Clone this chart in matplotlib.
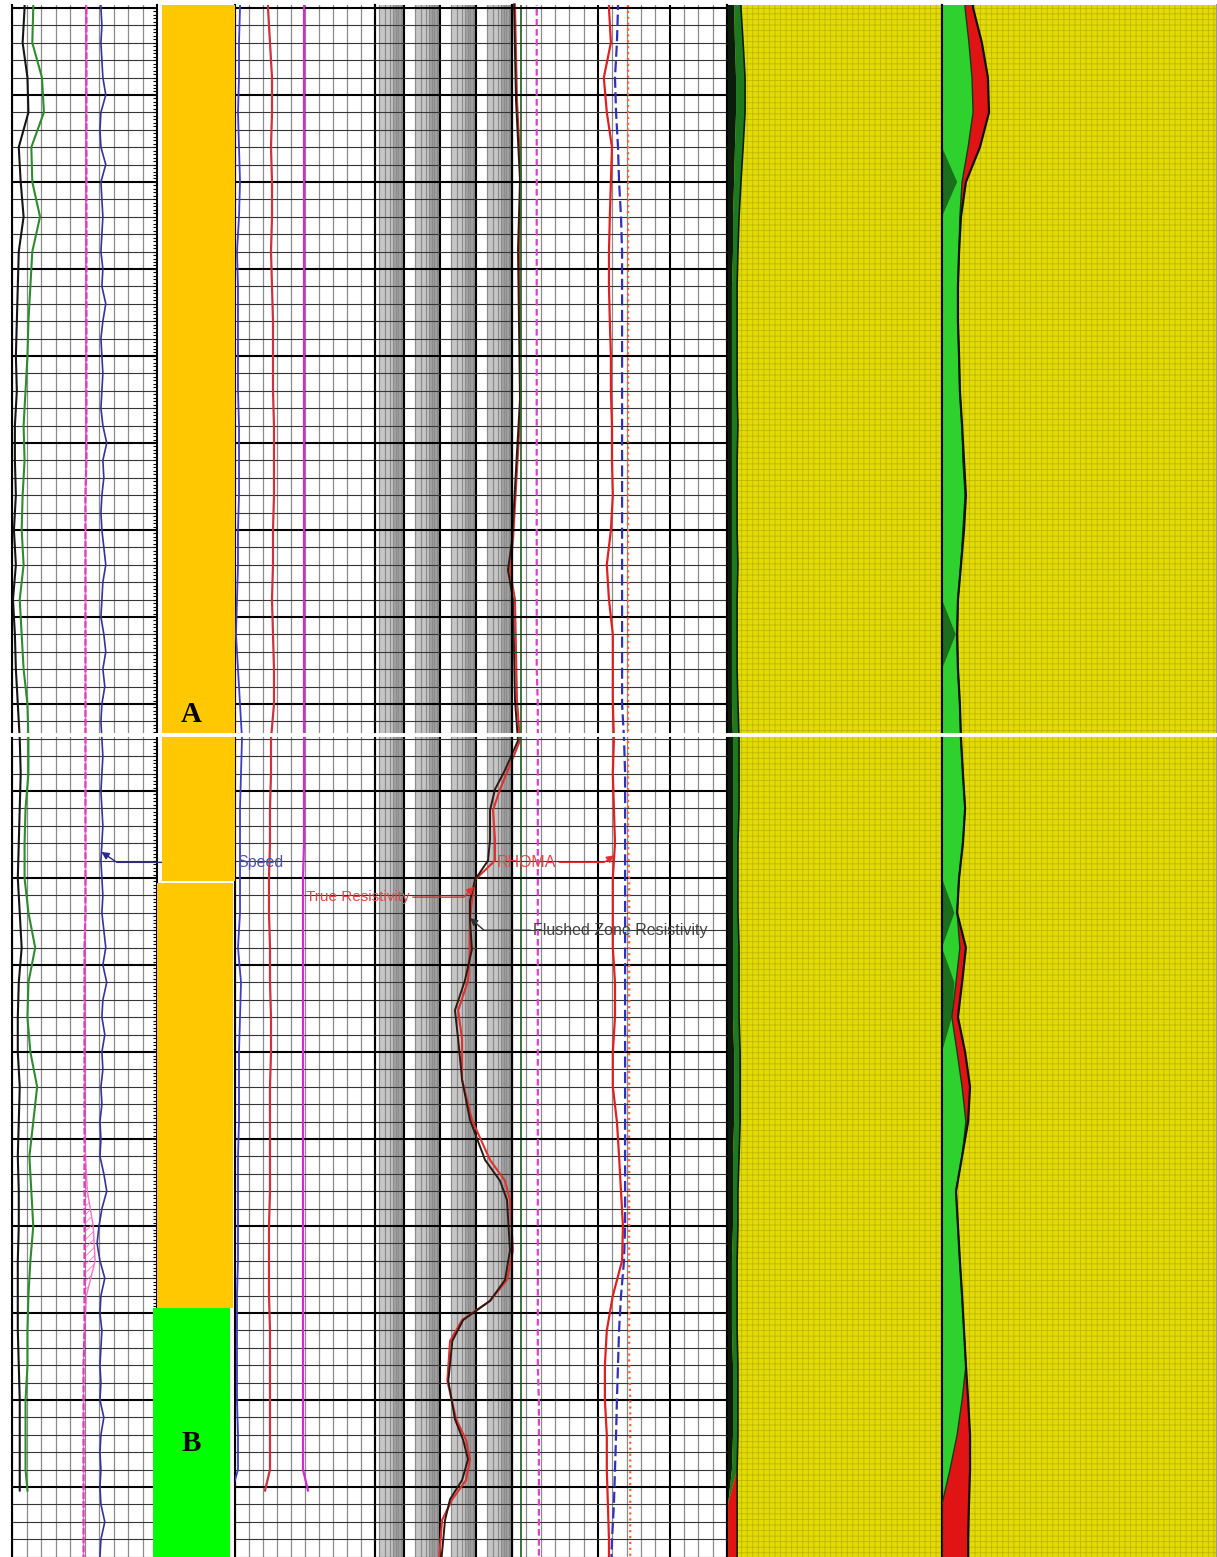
import numpy as np
import matplotlib
matplotlib.use("Agg")
import matplotlib.pyplot as plt
from matplotlib.patches import Rectangle
from matplotlib.ticker import MultipleLocator

plt.rcParams['font.family'] = ['Liberation Sans', 'DejaVu Sans']
plt.rcParams['hatch.linewidth'] = 0.6

# depth samples (ft)
depth = np.arange(5598, 5691, 2)
depth_fine = np.arange(5598, 5691, 1)
depth_short = np.append(np.arange(5598, 5685, 2), 5685.2)
depth_res = [5599.8, 5605.3, 5609.9, 5613.9, 5622.5, 5630.6, 5632.3, 5634.0, 5639.8, 5642.1,
             5643.8, 5644.9, 5646.1, 5647.8, 5649.0, 5650.1, 5651.3, 5652.4, 5654.1, 5655.9,
             5657.6, 5659.3, 5661.6, 5663.9, 5666.2, 5667.4, 5668.5, 5671.4, 5673.1, 5674.3,
             5675.4, 5676.6, 5678.9, 5681.1, 5682.3, 5683.4, 5684.6, 5685.7, 5686.9, 5690.0]

# track 1 curves
trk1_black = [13, 13, 11, 16, 17, 7, 9, 12, 7, 6, 5, 4, 5, 3, 3, 4, 2, 4, 1, 3,
              4, 6, 8, 9, 8, 7, 6, 8, 10, 7, 6, 6, 8, 7, 6, 7, 7, 6, 6, 6,
              7, 8, 8, 8, 8]
trk1_green = [22, 22, 21, 31, 33, 20, 21, 29, 21, 19, 17, 16, 14, 12, 13, 11, 10, 12, 8, 10,
              12, 16, 17, 17, 14, 13, 13, 17, 24, 17, 16, 19, 26, 22, 18, 20, 22, 19, 17, 16,
              16, 14, 14, 14, 16]
cable_speed = [92, 92, 92, 93, 92, 93, 94, 97, 92, 91,
               92, 97, 92, 93, 94, 93, 92, 94, 93, 97,
               94, 92, 93, 94, 93, 92, 94, 98, 94, 95,
               93, 92, 93, 95, 97, 94, 93, 92, 95, 97,
               94, 96, 93, 92, 93, 94, 93, 92, 93, 94,
               93, 92, 93, 94, 93, 95, 97, 94, 98, 94,
               93, 96, 93, 94, 92, 93, 91, 92, 91, 95,
               98, 93, 90, 88, 91, 96, 92, 91, 93, 92,
               91, 92, 91, 95, 92, 91, 92, 91, 92, 96,
               92, 91, 91]
trk1_magenta = [77, 77, 77, 77, 77, 77, 77, 77, 77, 77, 77, 77, 77, 77, 77, 76, 76, 76, 76, 76,
                76, 76, 76, 76, 76, 76, 76, 76, 75, 75, 75, 75, 75, 75, 75, 75, 75, 75, 75, 75,
                74, 74, 74, 74, 74, 74, 74]
trk1_pink = [77, 77, 77, 77, 77, 77, 77, 77, 77, 77, 77, 77, 77, 77, 77, 76, 76, 76, 76, 76,
             76, 76, 76, 76, 76, 76, 76, 76, 75, 75, 75, 75, 75, 75, 76, 78, 84, 86, 77, 75,
             74, 74, 74, 74, 74, 74, 74]

# track 2 curves
trk2_blue = [5, 5, 4, 4, 3, 4, 5, 4, 2, 3, 3, 3, 3, 4, 4, 4, 3, 3, 2, 1,
             3, 5, 7, 6, 5, 5, 5, 5, 3, 6, 5, 4, 4, 4, 3, 3, 3, 3, 2, 2,
             2, 2, 3, 3, -3]
trk2_red = [33, 33, 35, 37, 37, 36, 37, 37, 36, 37, 38, 38, 38, 39, 39, 39, 38, 38, 37, 38,
            39, 39, 36, 36, 35, 35, 34, 34, 35, 35, 36, 36, 35, 35, 35, 35, 34, 34, 34, 35,
            35, 35, 35, 35, 30]
trk2_magenta = [69, 69, 69, 69, 69, 69, 69, 69, 69, 69, 69, 69, 69, 69, 69, 69, 69, 69, 69, 69,
                69, 69, 69, 69, 69, 69, 68, 68, 68, 68, 68, 68, 68, 68, 68, 68, 68, 68, 68, 68,
                68, 68, 68, 68, 73]

# track 3 resistivities (ohm.m)
rxo = [1136, 1291, 1668, 1468, 1668, 1000, 774, 1066, 1211, 1468,
       639, 337, 245, 245, 215, 94, 68, 68, 77, 49,
       26, 32, 41, 68, 178, 464, 726, 880, 639, 245,
       44, 22, 17, 26, 44, 60, 41, 19, 13.8, 10]
rt = [1211, 1376, 1778, 1565, 1778, 1066, 880, 1211, 1376, 1668,
      774, 464, 297, 337, 337, 94, 77, 68, 68, 60,
      32, 41, 41, 77, 245, 639, 880, 1066, 726, 245,
      41, 19, 16, 28, 53, 68, 53, 22, 11.4, 8.8]

# track 4 curves (g/cc)
trk4_magenta = [2.265] * 21 + [2.27] * 20 + [2.275] * 6
rhoma = [2.601, 2.601, 2.610, 2.577, 2.591, 2.615, 2.610, 2.605, 2.601, 2.601,
         2.605, 2.610, 2.610, 2.615, 2.615, 2.619, 2.610, 2.591, 2.601, 2.619,
         2.619, 2.619, 2.624, 2.619, 2.624, 2.629, 2.619, 2.619, 2.619, 2.629,
         2.629, 2.619, 2.619, 2.638, 2.648, 2.657, 2.666, 2.662, 2.619, 2.591,
         2.582, 2.582, 2.591, 2.591, 2.596, 2.601, 2.601]
trk4_blue = [2.643, 2.643, 2.638, 2.629, 2.634, 2.643, 2.648, 2.657, 2.662, 2.662,
             2.662, 2.662, 2.662, 2.662, 2.662, 2.662, 2.662, 2.662, 2.662, 2.662,
             2.662, 2.662, 2.671, 2.676, 2.676, 2.676, 2.676, 2.676, 2.676, 2.676,
             2.676, 2.676, 2.676, 2.676, 2.676, 2.676, 2.676, 2.671, 2.657, 2.648,
             2.643, 2.638, 2.634, 2.629, 2.624, 2.615, 2.610]
trk4_orange = [2.69] * 26 + [2.695] * 15 + [2.70] * 6

# volumetric track (cumulative fractions)
vol_black = [0.033, 0.033, 0.037, 0.042, 0.042, 0.037, 0.033, 0.028, 0.028, 0.023,
             0.023, 0.023, 0.023, 0.023, 0.023, 0.023, 0.023, 0.023, 0.023, 0.023,
             0.023, 0.023, 0.028, 0.028, 0.028, 0.028, 0.028, 0.028, 0.028, 0.028,
             0.028, 0.033, 0.033, 0.033, 0.028, 0.028, 0.028, 0.023, 0.023, 0.023,
             0.028, 0.028, 0.028, 0.023, 0.005, 0.005, 0.005]
vol_green = [0.065, 0.065, 0.075, 0.084, 0.084, 0.075, 0.065, 0.056, 0.051, 0.047,
             0.047, 0.047, 0.047, 0.051, 0.047, 0.047, 0.047, 0.051, 0.047, 0.047,
             0.047, 0.051, 0.056, 0.056, 0.056, 0.051, 0.051, 0.051, 0.056, 0.056,
             0.056, 0.061, 0.061, 0.061, 0.056, 0.051, 0.051, 0.047, 0.047, 0.047,
             0.051, 0.051, 0.051, 0.047, 0.005, 0.005, 0.005]
vol_red = vol_green[:44] + [0.047, 0.047, 0.047]

# porosity track: bound water (dark green), water (green), hydrocarbon (red) edges
cbw = [0.0, 0.0, 0.0, 0.0, 0.0, 0.0, 0.055, 0.0, 0.0, 0.0,
       0.0, 0.0, 0.0, 0.0, 0.0, 0.0, 0.0, 0.0, 0.0, 0.05,
       0.0, 0.0, 0.0, 0.0, 0.0, 0.0, 0.0, 0.045, 0.0, 0.045,
       0.036, 0.0, 0.0, 0.0, 0.0, 0.0, 0.0, 0.0, 0.0, 0.0,
       0.0, 0.0, 0.0, 0.0, 0.0, 0.0, 0.0]
bvw = [0.076, 0.084, 0.098, 0.109, 0.113, 0.095, 0.073, 0.065, 0.062, 0.058,
       0.058, 0.062, 0.065, 0.073, 0.076, 0.084, 0.076, 0.069, 0.058, 0.055,
       0.058, 0.065, 0.069, 0.076, 0.084, 0.076, 0.062, 0.055, 0.065, 0.051,
       0.036, 0.055, 0.073, 0.087, 0.073, 0.051, 0.058, 0.065, 0.073, 0.080,
       0.087, 0.073, 0.055, 0.029, 0.0, 0.0, 0.0]
bvhc = [0.109, 0.113, 0.145, 0.167, 0.171, 0.138, 0.087, 0.069, 0.062, 0.058,
        0.058, 0.062, 0.065, 0.073, 0.080, 0.087, 0.080, 0.069, 0.058, 0.055,
        0.058, 0.065, 0.069, 0.076, 0.084, 0.076, 0.062, 0.055, 0.087, 0.073,
        0.058, 0.084, 0.102, 0.095, 0.073, 0.051, 0.058, 0.065, 0.073, 0.080,
        0.087, 0.095, 0.102, 0.102, 0.098, 0.095, 0.095]

# zones
zone_tops = [5599.8, 5650.3, 5674.7]
zone_bases = [5650.2, 5674.7, 5689.1]
zone_colors = ['#ffc800', '#ffc800', '#00ff00']
zone_x = [(12, 85), (7, 83), (3, 80)]
zone_labels = ['A', 'B']
zone_label_depths = [5640.6, 5682.5]

splice_depth = 5641.8
TOP, BOT = 5599.83, 5689.02
W, H = 1217, 1557

fig = plt.figure(figsize=(W / 100, H / 100), dpi=100)
fig.patch.set_facecolor('white')


def add_track(x0, x1):
    ax = fig.add_axes([x0 / W, 0, (x1 - x0) / W, 1552 / H])
    ax.set_facecolor('none')
    ax.set_ylim(BOT, TOP)
    ax.spines['top'].set_visible(False)
    ax.spines['bottom'].set_visible(False)
    ax.spines['left'].set_linewidth(1.5)
    ax.spines['right'].set_linewidth(1.5)
    return ax


def strip_ticks(ax):
    ax.tick_params(which='both', length=0, labelleft=False, labelbottom=False)


def hgrid(ax):
    for d in np.arange(5600, 5690):
        if d % 5 == 0:
            ax.axhline(d, color='black', lw=1.5, zorder=1.5)
        else:
            ax.axhline(d, color='#363636', lw=0.8, zorder=1.5)


def vgrid(ax, xs, majors=()):
    for i, x in enumerate(xs):
        if i in majors:
            ax.axvline(x, color='black', lw=1.5, zorder=1)
        else:
            ax.axvline(x, color='#8c8c8c', lw=0.9, zorder=1)


# track 1
ax1 = add_track(12, 157)
ax1.set_xlim(0, 150)
vgrid(ax1, np.linspace(0, 150, 11))
hgrid(ax1)
ax1.fill_betweenx(depth, trk1_magenta, trk1_pink, facecolor='none', edgecolor='#ff70c8',
                  hatch='////', lw=0, zorder=2)
ax1.plot(trk1_pink, depth, color='#ff70c8', lw=1, zorder=2)
ax1.plot(trk1_magenta, depth, color='#e03cc0', lw=1.6, ls=(0, (3, 1)), zorder=3)
ax1.plot(cable_speed, depth_fine, color='#34349a', lw=1.2, zorder=3)
ax1.plot(trk1_green, depth_short, color='#2e8b2e', lw=1.5, zorder=3)
ax1.plot(trk1_black, depth_short, color='#151515', lw=1.5, zorder=3)
ax1.set_xticks([])
ax1.yaxis.set_major_locator(MultipleLocator(1))
ax1.yaxis.set_minor_locator(MultipleLocator(0.2))
ax1.tick_params(axis='y', which='both', left=False, right=True, direction='in',
                length=3, width=0.8, labelleft=False)

# track 2
ax2 = add_track(235, 375)
ax2.set_xlim(0, 140)
vgrid(ax2, np.linspace(0, 140, 11))
hgrid(ax2)
ax2.plot(trk2_blue, depth_short, color='#3c3cc8', lw=1.3, zorder=3)
ax2.plot(trk2_red, depth_short, color='#d0303c', lw=1.6, zorder=3)
ax2.plot(trk2_magenta, depth_short, color='#d02cd0', lw=1.6, zorder=3)
strip_ticks(ax2)

# track 3 - resistivity, logarithmic
ax3 = add_track(375, 512)
ax3.set_xscale('log')
ax3.set_xlim(0.156, 1000)
for n in range(-1, 3):
    for k in range(1, 10):
        v = k * 10.0 ** n
        if v < 0.156:
            continue
        if k == 1:
            ax3.axvline(v, color='black', lw=1.5, zorder=1)
        else:
            ax3.axvline(v, color='#8c8c8c', lw=0.9, zorder=1)
    ax3.axvspan(2.2 * 10.0 ** n, 5 * 10.0 ** n, color='#c6c6c6', lw=0, zorder=0)
    ax3.axvspan(5 * 10.0 ** n, 10 * 10.0 ** n, color='#a2a2a2', lw=0, zorder=0)
hgrid(ax3)
ax3.plot(rt, depth_res, color='#e03030', lw=1.5, zorder=3, clip_on=False)
ax3.plot(rxo, depth_res, color='#2a1a12', lw=1.4, zorder=3, clip_on=False)
strip_ticks(ax3)

# track 4
ax4 = add_track(512, 727)
ax4.set_xlim(2.15, 3.15)
vgrid(ax4, np.linspace(2.15, 3.15, 16), majors=(6, 11))
ax4.axvline(2.192, color='#2a6a2a', lw=1.3, zorder=1.2)
hgrid(ax4)
ax4.plot(trk4_magenta, depth, color='#e040d0', lw=1.6, ls=(0, (3, 1.5)), zorder=3)
ax4.plot(trk4_orange, depth, color='#ff6030', lw=1.6, ls=':', zorder=3)
ax4.plot(trk4_blue, depth, color='#3030c0', lw=1.6, ls=(0, (5, 2)), zorder=3)
ax4.plot(rhoma, depth, color='#e02020', lw=1.6, zorder=3)
strip_ticks(ax4)

# volumetric track
ax5 = add_track(727, 942)
ax5.set_xlim(0, 1)
ax5.add_patch(Rectangle((0, 0), 1, 1, transform=ax5.transAxes, facecolor='#e3dc04',
                        edgecolor='#c0b600', hatch='+++', lw=0, zorder=0))
ax5.fill_betweenx(depth, 0, vol_black, color='#0c1c0c', lw=0, zorder=2)
ax5.fill_betweenx(depth, vol_black, vol_green, color='#1f7a1f', lw=0, zorder=2)
ax5.fill_betweenx(depth, vol_green, vol_red, color='#e01414', lw=0, zorder=2)
ax5.plot(vol_red, depth, color='#0c1c0c', lw=1.2, zorder=3)
strip_ticks(ax5)

# porosity track
ax6 = add_track(942, 1217)
ax6.set_xlim(0, 1)
ax6.add_patch(Rectangle((0, 0), 1, 1, transform=ax6.transAxes, facecolor='#e3dc04',
                        edgecolor='#c0b600', hatch='+++', lw=0, zorder=0))
ax6.fill_betweenx(depth, 0, bvw, color='#2ed12e', lw=0, zorder=2)
ax6.fill_betweenx(depth, 0, cbw, color='#1b6e1b', lw=0, zorder=2.2)
ax6.fill_betweenx(depth, bvw, bvhc, color='#e01414', lw=0, zorder=2)
ax6.plot(bvw, depth, color='#143c14', lw=1.0, zorder=3)
ax6.plot(bvhc, depth, color='#101010', lw=1.6, zorder=3)
ax6.spines['right'].set_color('#9a9a9a')
strip_ticks(ax6)

# curve labels
ax2.annotate('Speed', xy=(np.interp(5648.5, depth_fine, cable_speed), 5648.5),
             xycoords=ax1.transData, xytext=(2, 5649.1), textcoords='data',
             ha='left', va='center', fontsize=11.5, color='#5050a8', annotation_clip=False,
             arrowprops=dict(arrowstyle='-|>', color='#2a2a8a', lw=1, mutation_scale=11,
                             shrinkA=0, shrinkB=0,
                             connectionstyle='angle,angleA=0,angleB=-34,rad=0'))
ax4.annotate('RHOMA', xy=(np.interp(5648.7, depth, rhoma), 5648.7), xytext=(2.08, 5649.1),
             ha='left', va='center', fontsize=11.5, color='#e04848', annotation_clip=False,
             arrowprops=dict(arrowstyle='-|>', color='#e03030', lw=1, mutation_scale=11,
                             shrinkA=0, shrinkB=0,
                             connectionstyle='angle,angleA=0,angleB=35,rad=0'))
ax3.annotate('True Resistivity', xy=(np.interp(5650.5, depth_res, rt), 5650.5),
             xytext=(1.47, 5651.1), ha='right', va='center', fontsize=11, color='#e04848',
             annotation_clip=False,
             arrowprops=dict(arrowstyle='-|>', color='#e03030', lw=1, mutation_scale=11,
                             shrinkA=0, shrinkB=0,
                             connectionstyle='angle,angleA=0,angleB=45,rad=0'))
ax4.annotate('Flushed Zone Resistivity', xy=(np.interp(5652.3, depth_res, rxo), 5652.3),
             xycoords=ax3.transData, xytext=(2.249, 5653.0), textcoords='data',
             ha='left', va='center', fontsize=11.5, color='#444444', annotation_clip=False,
             arrowprops=dict(arrowstyle='-|>', color='#303030', lw=1, mutation_scale=11,
                             shrinkA=0, shrinkB=0,
                             connectionstyle='angle,angleA=0,angleB=-41,rad=0'))

# zone column
axz = add_track(150, 240)
axz.set_xlim(0, 90)
for s in axz.spines.values():
    s.set_visible(False)
strip_ticks(axz)
for top, base, c, (x0, x1) in zip(zone_tops, zone_bases, zone_colors, zone_x):
    axz.fill_betweenx([top, base], x0, x1, color=c, lw=0, zorder=2)
for lab, d in zip(zone_labels, zone_label_depths):
    axz.text(41, d, lab, ha='center', va='center', fontsize=21, fontweight='bold',
             family=['Liberation Serif', 'DejaVu Serif'], zorder=4)

# splice between the two log prints
for ax in (ax1, ax2, ax3, ax4, ax5, ax6, axz):
    ax.axhline(splice_depth, color='white', lw=2.8, zorder=5, clip_on=False)

fig.savefig('out.png', dpi=100, facecolor='white')
